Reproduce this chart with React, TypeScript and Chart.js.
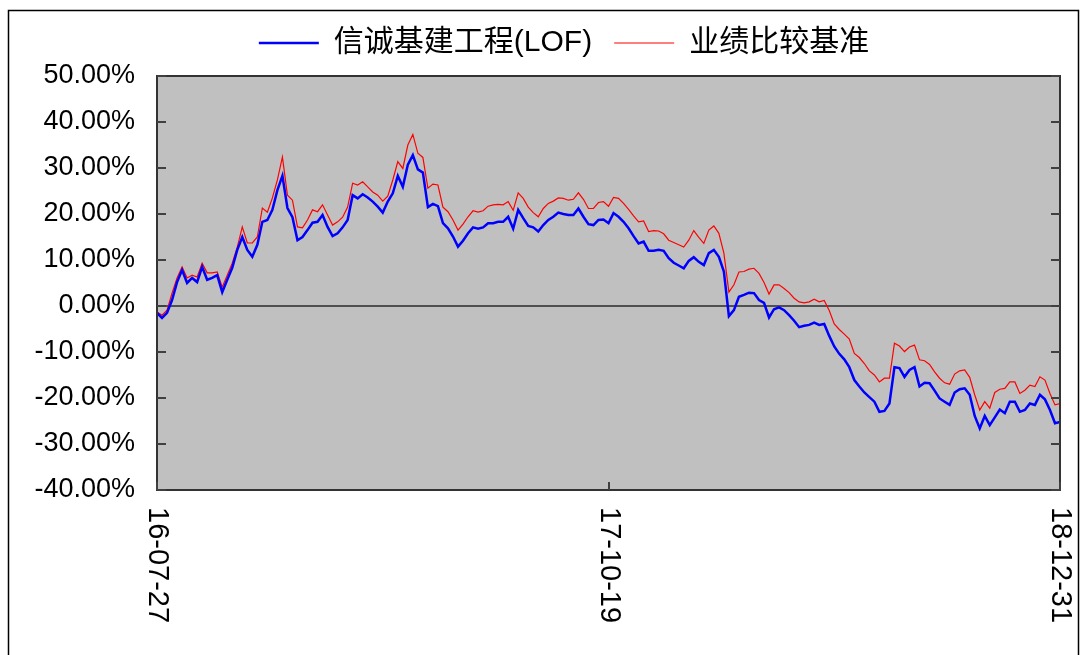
import React, { useEffect, useRef } from 'react';
import { Chart, registerables } from 'chart.js';

Chart.register(...registerables);

const seriesNames = ['信诚基建工程(LOF)', '业绩比较基准'];
const xTickLabels = ['16-07-27', '17-10-19', '18-12-31'];
const xTickIndex = [0, 90, 180];
const yMin = -40;
const yMax = 50;
const yStep = 10;

// cumulative return of the fund (%), sampled evenly across the period
const fundReturn = [
  -1.5, -2.6, -1.5, 1.3, 5.2, 7.8, 5.0, 6.1, 5.2, 8.5, 5.7, 6.1, 6.7, 3.0, 5.7, 8.3, 12.2, 15.0, 12.2, 10.7, 13.3, 18.3, 18.7, 20.9, 25.2, 28.3, 21.3, 19.3, 14.3, 15.0, 16.5,
  18.1, 18.3, 19.8, 17.2, 15.2, 15.8, 17.1, 18.7, 24.1, 23.4, 24.3, 23.6, 22.7, 21.6, 20.3, 22.7, 24.5, 28.3, 25.9, 30.7, 32.8, 29.7, 29.0, 21.5, 22.2, 21.7, 18.0, 16.9, 15.1, 12.9,
  14.2, 15.8, 17.1, 16.8, 17.1, 18.0, 18.0, 18.3, 18.3, 19.4, 16.8, 20.9, 19.1, 17.4, 17.1, 16.2, 17.6, 18.7, 19.4, 20.3, 20.0, 19.8, 19.8, 21.2, 19.4, 17.8, 17.6, 18.7, 18.8, 18.0,
  20.2, 19.4, 18.3, 16.9, 15.2, 13.6, 14.0, 12.0, 12.0, 12.2, 12.0, 10.4, 9.4, 8.8, 8.2, 9.8, 10.6, 9.6, 8.9, 11.5, 12.2, 10.7, 7.5, -2.2, -0.9, 2.0, 2.4, 2.9, 2.8, 1.3,
  0.7, -2.5, -0.7, -0.3, -0.9, -2.0, -3.2, -4.6, -4.3, -4.1, -3.6, -4.1, -3.9, -6.5, -8.8, -10.4, -11.6, -13.3, -16.1, -17.5, -18.8, -19.8, -20.8, -23.0, -22.8, -21.2, -13.3, -13.5, -15.4, -13.9,
  -13.3, -17.5, -16.7, -16.8, -18.4, -20.1, -20.8, -21.5, -18.8, -18.1, -17.9, -19.3, -23.9, -26.6, -23.9, -25.9, -24.2, -22.5, -23.3, -20.8, -20.8, -23.0, -22.6, -21.2, -21.5, -19.3, -20.3, -22.6, -25.5, -25.2,
];

// cumulative return of the benchmark (%)
const benchmarkReturn = [
  -1.3, -2.0, -0.9, 2.8, 6.1, 8.5, 6.1, 6.7, 6.3, 9.3, 7.2, 7.2, 7.4, 4.1, 6.7, 9.3, 12.8, 17.2, 13.7, 13.7, 15.0, 21.3, 20.4, 23.5, 27.4, 32.4, 24.1, 23.0, 17.2, 17.0, 18.7,
  20.9, 20.5, 22.0, 19.8, 17.6, 18.3, 19.3, 21.5, 26.7, 26.3, 27.0, 25.9, 24.8, 24.1, 22.8, 23.9, 27.4, 31.4, 29.9, 35.0, 37.3, 33.2, 32.3, 25.6, 26.5, 26.3, 21.5, 20.5, 18.7, 16.5,
  17.8, 19.4, 20.7, 20.4, 20.7, 21.7, 22.0, 22.1, 22.0, 22.7, 20.8, 24.6, 23.4, 21.5, 20.3, 19.4, 21.2, 22.3, 22.8, 23.5, 23.4, 23.0, 23.2, 24.6, 23.2, 21.2, 21.2, 22.5, 22.7, 21.7,
  23.6, 23.4, 22.3, 21.0, 19.6, 18.3, 18.5, 16.2, 16.4, 16.3, 15.7, 14.3, 13.8, 13.3, 12.8, 14.3, 16.4, 14.9, 13.6, 16.5, 17.4, 15.8, 11.5, 3.0, 4.6, 7.4, 7.5, 8.0, 8.2, 7.1,
  5.1, 2.6, 4.6, 4.6, 3.8, 2.9, 1.7, 0.9, 0.7, 0.9, 1.5, 0.9, 1.2, -1.0, -3.9, -5.1, -6.1, -7.2, -10.3, -11.2, -12.5, -14.1, -15.0, -16.5, -15.7, -15.7, -8.1, -8.7, -9.9, -8.9,
  -8.5, -11.7, -11.9, -12.7, -14.3, -15.7, -16.7, -17.0, -14.8, -14.1, -13.9, -15.5, -19.3, -22.6, -20.8, -22.2, -18.8, -18.1, -17.9, -16.5, -16.5, -19.0, -18.3, -17.2, -17.5, -15.4, -16.1, -19.0, -21.5, -21.2,
];

const LATIN = '"Liberation Sans", Arial, "Noto Sans CJK SC", sans-serif';
const LEGEND_SHIFT = 30;

const decorPlugin = {
  id: 'decor',
  afterLayout(chart: any) {
    const lg = chart.legend;
    if (lg) {
      lg.left += LEGEND_SHIFT;
      lg.right += LEGEND_SHIFT;
    }
  },
  beforeDraw(chart: any) {
    const { ctx, chartArea: a } = chart;
    ctx.save();
    ctx.fillStyle = '#ffffff';
    ctx.fillRect(0, 0, chart.width, chart.height);
    ctx.fillStyle = '#C0C0C0';
    ctx.fillRect(a.left, a.top, a.right - a.left, a.bottom - a.top);
    ctx.restore();
  },
  afterDraw(chart: any) {
    const { ctx, chartArea: a } = chart;
    const ys = chart.scales.y;
    const xs = chart.scales.x;
    ctx.save();
    // outer frame
    ctx.strokeStyle = '#000000';
    ctx.lineWidth = 1.5;
    ctx.beginPath();
    ctx.moveTo(8.5, chart.height);
    ctx.lineTo(8.5, 10.5);
    ctx.lineTo(1078.5, 10.5);
    ctx.lineTo(1078.5, chart.height);
    ctx.stroke();
    // plot border
    ctx.strokeStyle = '#333333';
    ctx.lineWidth = 2;
    ctx.strokeRect(a.left, a.top, a.right - a.left, a.bottom - a.top);
    // inward ticks
    ctx.strokeStyle = '#404040';
    ctx.lineWidth = 2;
    ctx.beginPath();
    for (let v = yMin; v <= yMax; v += yStep) {
      const py = Math.round(ys.getPixelForValue(v));
      ctx.moveTo(a.left, py);
      ctx.lineTo(a.left + 9, py);
      ctx.moveTo(a.right - 9, py);
      ctx.lineTo(a.right, py);
    }
    xTickIndex.forEach((idx) => {
      const px = Math.round(xs.getPixelForValue(idx));
      ctx.moveTo(px, a.bottom);
      ctx.lineTo(px, a.bottom - 8);
    });
    ctx.stroke();
    // rotated x labels (reading top to bottom)
    ctx.fillStyle = '#000000';
    ctx.font = '29px ' + LATIN;
    ctx.textAlign = 'left';
    ctx.textBaseline = 'middle';
    xTickIndex.forEach((idx, k) => {
      const px = xs.getPixelForValue(idx);
      ctx.save();
      ctx.translate(px, a.bottom + 17);
      ctx.rotate(Math.PI / 2);
      ctx.fillText(xTickLabels[k], 0, 0);
      ctx.restore();
    });
    ctx.restore();
  },
};

export default function App() {
  const canvasRef = useRef<HTMLCanvasElement | null>(null);

  useEffect(() => {
    const canvas = canvasRef.current;
    if (!canvas) return;
    const chart = new Chart(canvas, {
      type: 'line',
      data: {
        datasets: [
          {
            label: seriesNames[0],
            data: fundReturn.map((v, i) => ({ x: i, y: v })),
            borderColor: '#0000FF',
            backgroundColor: '#0000FF',
            borderWidth: 2.5,
            pointRadius: 0,
            tension: 0,
            fill: false,
          },
          {
            label: seriesNames[1],
            data: benchmarkReturn.map((v, i) => ({ x: i, y: v })),
            borderColor: '#FF0000',
            backgroundColor: '#FF0000',
            borderWidth: 1.2,
            pointRadius: 0,
            tension: 0,
            fill: false,
          },
        ],
      },
      options: {
        responsive: false,
        animation: false,
        devicePixelRatio: 1,
        layout: { padding: { left: 8, right: 23, top: 6, bottom: 165 } },
        plugins: {
          legend: {
            display: true,
            position: 'top',
            labels: {
              usePointStyle: true,
              pointStyle: 'line',
              pointStyleWidth: 60,
              padding: 22,
              color: '#000000',
              font: { family: LATIN, size: 30 },
            },
          },
          title: {
            display: true,
            text: '',
            position: 'top',
            weight: 500,
            font: { size: 1, lineHeight: 1 },
            padding: { top: 0, bottom: 7 },
          },
          tooltip: { enabled: false },
        },
        scales: {
          x: { type: 'linear', min: 0, max: fundReturn.length - 1, display: false },
          y: {
            min: yMin,
            max: yMax,
            ticks: {
              stepSize: yStep,
              color: '#000000',
              font: { family: LATIN, size: 27 },
              padding: 22,
              callback: (v: any) => Number(v).toFixed(2) + '%',
            },
            grid: {
              drawTicks: false,
              lineWidth: 2,
              color: (c: any) => (c.tick && c.tick.value === 0 ? '#505050' : 'rgba(0,0,0,0)'),
            },
            border: { display: false },
            afterFit: (s: any) => {
              s.width = 149;
            },
          },
        },
      },
      plugins: [decorPlugin],
    } as any);
    return () => chart.destroy();
  }, []);

  return (
    <div style={{ position: 'absolute', left: 0, top: 0, width: 1083, height: 655, background: '#fff' }}>
      <canvas ref={canvasRef} width={1083} height={655} style={{ display: 'block' }} />
    </div>
  );
}
